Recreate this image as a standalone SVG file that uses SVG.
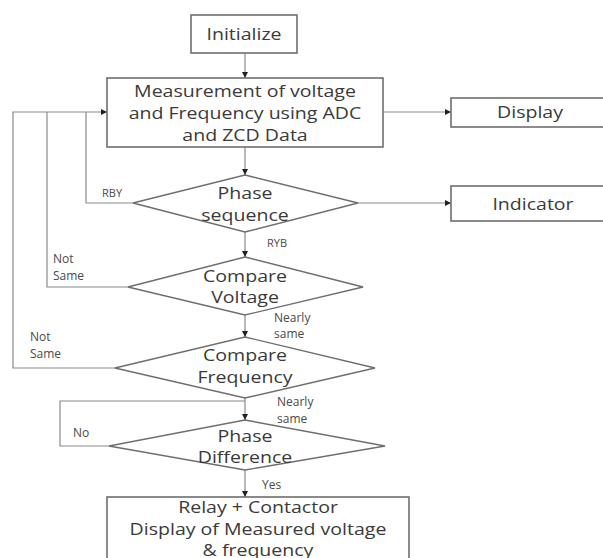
<svg xmlns="http://www.w3.org/2000/svg" width="603" height="558" viewBox="0 0 603 558">
<style>
.box{fill:#fff;stroke:#6e6e6e;stroke-width:1.6}
.dia{fill:#fff;stroke:#6e6e6e;stroke-width:1.4}
.t{font-family:"Open Sans","Liberation Sans",sans-serif;font-size:17px;fill:#3a3a3a;text-anchor:middle}
.l{font-family:"Open Sans","Liberation Sans",sans-serif;font-size:12px;fill:#4a4a4a}
.c{fill:none;stroke:#8a8a8a;stroke-width:1.2}
</style>
<defs>
<marker id="ah" viewBox="0 0 10 10" refX="10" refY="5" markerWidth="6" markerHeight="6" orient="auto" markerUnits="userSpaceOnUse">
<path d="M0,0 L10,5 L0,10 z" fill="#222"/>
</marker>
</defs>
<rect width="603" height="558" fill="#fff"/>
<g id="connectors">
<path class="c" d="M245,53 V78" marker-end="url(#ah)"/>
<path class="c" d="M383,112 H451" marker-end="url(#ah)"/>
<path class="c" d="M245,147 V175" marker-end="url(#ah)"/>
<path class="c" d="M358,203 H451" marker-end="url(#ah)"/>
<path class="c" d="M245,232 V257" marker-end="url(#ah)"/>
<path class="c" d="M133,203 H86 V112"/>
<path class="c" d="M128,287 H47 V112"/>
<path class="c" d="M115,368 H13 V112 H107" marker-end="url(#ah)"/>
<path class="c" d="M245,315 V337" marker-end="url(#ah)"/>
<path class="c" d="M245,398 V420" marker-end="url(#ah)"/>
<path class="c" d="M109,446 H60 V401 H245"/>
<path class="c" d="M245,470 V497" marker-end="url(#ah)"/>
</g>
<g id="initialize">
<rect class="box" x="191" y="15" width="106" height="38"/>
<text class="t" transform="translate(244,40) scale(1.15,1)">Initialize</text>
</g>
<g id="measurement">
<rect class="box" x="107" y="78" width="276" height="69"/>
<text class="t" transform="translate(245,97) scale(1.15,1)">Measurement of voltage</text>
<text class="t" transform="translate(245,119) scale(1.15,1)">and Frequency using ADC</text>
<text class="t" transform="translate(245,141) scale(1.15,1)">and ZCD Data</text>
</g>
<g id="display">
<rect class="box" x="451" y="98" width="160" height="29"/>
<text class="t" transform="translate(530,118) scale(1.15,1)">Display</text>
</g>
<g id="phase-sequence">
<polygon class="dia" points="245,175 358,203 245,232 133,203"/>
<text class="t" transform="translate(245,199) scale(1.15,1)">Phase</text>
<text class="t" transform="translate(245,221) scale(1.15,1)">sequence</text>
</g>
<g id="indicator">
<rect class="box" x="451" y="186" width="160" height="35"/>
<text class="t" transform="translate(533,210) scale(1.15,1)">Indicator</text>
</g>
<g id="compare-voltage">
<polygon class="dia" points="245,257 363,287 245,315 128,287"/>
<text class="t" transform="translate(245,282) scale(1.15,1)">Compare</text>
<text class="t" transform="translate(245,303) scale(1.15,1)">Voltage</text>
</g>
<g id="compare-frequency">
<polygon class="dia" points="245,337 375,368 245,398 115,368"/>
<text class="t" transform="translate(245,361) scale(1.15,1)">Compare</text>
<text class="t" transform="translate(245,383) scale(1.15,1)">Frequency</text>
</g>
<g id="phase-difference">
<polygon class="dia" points="245,420 385,446 245,470 109,446"/>
<text class="t" transform="translate(245,442) scale(1.15,1)">Phase</text>
<text class="t" transform="translate(245,463) scale(1.15,1)">Difference</text>
</g>
<g id="relay">
<rect class="box" x="107" y="497" width="302" height="70"/>
<text class="t" transform="translate(258,513) scale(1.15,1)">Relay + Contactor</text>
<text class="t" transform="translate(258,535) scale(1.15,1)">Display of Measured voltage</text>
<text class="t" transform="translate(258,556) scale(1.15,1)">&amp; frequency</text>
</g>
<g id="labels">
<text class="l" x="102" y="197" style="font-size:11px">RBY</text>
<text class="l" x="267" y="247" style="font-size:11px">RYB</text>
<text class="l" x="53" y="263">Not</text>
<text class="l" x="53" y="280">Same</text>
<text class="l" x="274" y="322">Nearly</text>
<text class="l" x="274" y="338">same</text>
<text class="l" x="30" y="341">Not</text>
<text class="l" x="30" y="358">Same</text>
<text class="l" x="277" y="406">Nearly</text>
<text class="l" x="277" y="423">same</text>
<text class="l" x="73" y="437">No</text>
<text class="l" x="262" y="489">Yes</text>
</g>
</svg>
